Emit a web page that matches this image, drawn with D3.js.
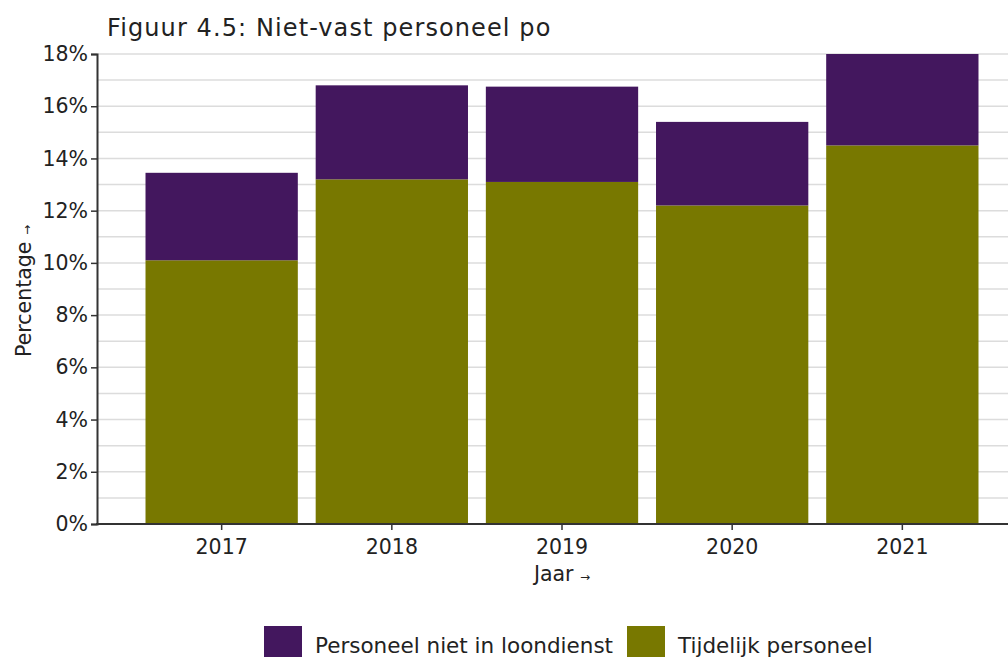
<!DOCTYPE html>
<html>
<head>
<meta charset="utf-8">
<script src="https://d3js.org/d3.v7.min.js"></script>
<style>
  body { margin: 0; background: #fff; }
  text { font-family: "DejaVu Sans", Verdana, sans-serif; fill: #222; }
</style>
</head>
<body>
<script>
  // data
  var years = ["2017", "2018", "2019", "2020", "2021"];
  var tijdelijk = [10.1, 13.2, 13.1, 12.2, 14.5];       // Tijdelijk personeel
  var nietLoondienst = [3.35, 3.6, 3.65, 3.2, 3.5];     // Personeel niet in loondienst
  var seriesNames = ["Personeel niet in loondienst", "Tijdelijk personeel"];
  var seriesColors = ["#43175e", "#787800"];
  var yTicks = [0, 2, 4, 6, 8, 10, 12, 14, 16, 18];

  var width = 1008, height = 657;
  var svg = d3.select("body").append("svg")
    .attr("width", width)
    .attr("height", height);

  var x = d3.scaleBand()
    .domain(years)
    .range([137, 987])
    .paddingInner(0.105)
    .paddingOuter(0.05);

  var y = d3.scaleLinear()
    .domain([0, 18])
    .range([524, 54]);

  // gridlines every 1%
  svg.append("g").selectAll("line")
    .data(d3.range(1, 19))
    .enter().append("line")
    .attr("x1", 97)
    .attr("x2", width)
    .attr("y1", function(d) { return y(d); })
    .attr("y2", function(d) { return y(d); })
    .attr("stroke", "#dcdcdc")
    .attr("stroke-width", 1.5);

  // stacked bars
  var rows = years.map(function(yr, i) {
    return { year: yr, tijdelijk: tijdelijk[i], niet: nietLoondienst[i] };
  });

  var bars = svg.append("g");
  bars.selectAll("rect.t")
    .data(rows)
    .enter().append("rect")
    .attr("class", "t")
    .attr("x", function(d) { return x(d.year); })
    .attr("width", x.bandwidth())
    .attr("y", function(d) { return y(d.tijdelijk); })
    .attr("height", function(d) { return y(0) - y(d.tijdelijk); })
    .attr("fill", seriesColors[1]);

  bars.selectAll("rect.n")
    .data(rows)
    .enter().append("rect")
    .attr("class", "n")
    .attr("x", function(d) { return x(d.year); })
    .attr("width", x.bandwidth())
    .attr("y", function(d) { return y(d.tijdelijk + d.niet); })
    .attr("height", function(d) { return y(d.tijdelijk) - y(d.tijdelijk + d.niet); })
    .attr("fill", seriesColors[0]);

  // y axis
  var yAxis = svg.append("g")
    .attr("transform", "translate(97,0)")
    .call(d3.axisLeft(y).tickValues(yTicks).tickSize(6).tickPadding(3)
      .tickFormat(function(d) { return d + "%"; }));
  yAxis.select(".domain").attr("stroke", "#333").attr("stroke-width", 2);
  yAxis.selectAll(".tick line").attr("stroke", "#333").attr("stroke-width", 1.5);
  yAxis.selectAll(".tick text").style("font-size", "20.5px").attr("fill", "#222");

  // x axis
  var xAxis = svg.append("g")
    .attr("transform", "translate(0,524)")
    .call(d3.axisBottom(x).tickSize(6).tickPadding(9).tickSizeOuter(0));
  xAxis.select(".domain").remove();
  xAxis.append("line")
    .attr("x1", 96).attr("x2", width)
    .attr("stroke", "#333").attr("stroke-width", 2);
  xAxis.selectAll(".tick line").attr("stroke", "#333").attr("stroke-width", 1.5);
  xAxis.selectAll(".tick text").style("font-size", "20.5px").attr("fill", "#222");

  // title
  svg.append("text")
    .attr("x", 107)
    .attr("y", 36)
    .style("font-size", "24px")
    .style("letter-spacing", "1.1px")
    .text("Figuur 4.5: Niet-vast personeel po");

  // axis titles
  var xt = svg.append("text")
    .attr("x", 562)
    .attr("y", 581)
    .attr("text-anchor", "middle")
    .style("font-size", "20.5px");
  xt.append("tspan").text("Jaar ");
  xt.append("tspan").style("font-size", "12px").text("→");

  var yt = svg.append("text")
    .attr("transform", "translate(31,291) rotate(-90)")
    .attr("text-anchor", "middle")
    .style("font-size", "20.5px");
  yt.append("tspan").text("Percentage ");
  yt.append("tspan").style("font-size", "12px").text("→");

  // legend
  var legendX = [264, 627];
  var legend = svg.append("g").selectAll("g")
    .data(seriesNames)
    .enter().append("g")
    .attr("transform", function(d, i) { return "translate(" + legendX[i] + ",626)"; });
  legend.append("rect")
    .attr("width", 38)
    .attr("height", 34)
    .attr("fill", function(d, i) { return seriesColors[i]; });
  legend.append("text")
    .attr("x", 51)
    .attr("y", 27)
    .style("font-size", "21.5px")
    .text(function(d) { return d; });
</script>
</body>
</html>
